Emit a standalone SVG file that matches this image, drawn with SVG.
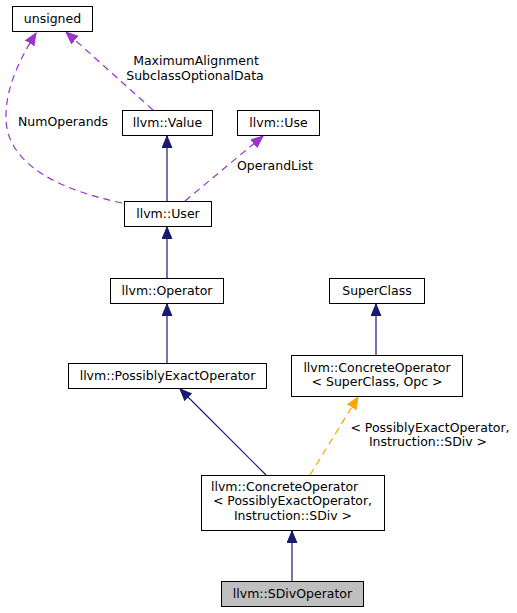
<svg xmlns="http://www.w3.org/2000/svg" width="517" height="613" viewBox="0 0 517 613">
<style>
.box{fill:#fff;stroke:#000;stroke-width:1}
.t{font-family:"DejaVu Sans",sans-serif;font-size:12.5px;fill:#000}
.m{text-anchor:middle}
.inh{fill:none;stroke:#191970;stroke-width:1.2}
.use{fill:none;stroke:#9a32cd;stroke-width:1.2;stroke-dasharray:7,5}
.tmpl{fill:none;stroke:#ffa500;stroke-width:1.2;stroke-dasharray:7,5}
</style>
<defs>
<marker id="aN" markerUnits="userSpaceOnUse" markerWidth="14" markerHeight="12" refX="12" refY="5" orient="auto"><path d="M0,0 L12,5 L0,10 z" fill="#191970" stroke="#191970"/></marker>
<marker id="aP" markerUnits="userSpaceOnUse" markerWidth="14" markerHeight="12" refX="12" refY="5" orient="auto"><path d="M0,0 L12,5 L0,10 z" fill="#9a32cd" stroke="#9a32cd"/></marker>
<marker id="aO" markerUnits="userSpaceOnUse" markerWidth="14" markerHeight="12" refX="12" refY="5" orient="auto"><path d="M0,0 L12,5 L0,10 z" fill="#ffa500" stroke="#ffa500"/></marker>
</defs>
<g id="connectors">
<path class="use" d="M153,110 L66,32" marker-end="url(#aP)"/>
<path class="use" d="M122,203 C60,190 8,165 6,120 C5,90 18,62 36,33" marker-end="url(#aP)"/>
<path class="inh" d="M167,201 L167,136" marker-end="url(#aN)"/>
<path class="use" d="M185,201 L263,136" marker-end="url(#aP)"/>
<path class="inh" d="M167,278 L167,227" marker-end="url(#aN)"/>
<path class="inh" d="M167,363 L167,304" marker-end="url(#aN)"/>
<path class="inh" d="M376,355 L376,304" marker-end="url(#aN)"/>
<path class="inh" d="M266,475 L180,389" marker-end="url(#aN)"/>
<path class="tmpl" d="M310,475 L358,397" marker-end="url(#aO)"/>
<path class="inh" d="M292,581 L292,531" marker-end="url(#aN)"/>
<text class="t m" x="196" y="65">MaximumAlignment</text>
<text class="t m" x="195" y="79.5">SubclassOptionalData</text>
<text class="t m" x="63" y="126">NumOperands</text>
<text class="t m" x="275" y="170">OperandList</text>
<text class="t m" x="430" y="432">&lt; PossiblyExactOperator,</text>
<text class="t m" x="428" y="446">Instruction::SDiv &gt;</text>
</g>
<g id="unsigned"><rect class="box" x="12.5" y="6.5" width="80" height="25"/><text class="t m" x="52.5" y="23">unsigned</text></g>
<g id="value"><rect class="box" x="122.5" y="110.5" width="90" height="25"/><text class="t m" x="167.5" y="127">llvm::Value</text></g>
<g id="use"><rect class="box" x="237.5" y="110.5" width="82" height="25"/><text class="t m" x="278.5" y="127">llvm::Use</text></g>
<g id="user"><rect class="box" x="124.5" y="201.5" width="87" height="25"/><text class="t m" x="168" y="218">llvm::User</text></g>
<g id="operator"><rect class="box" x="110.5" y="278.5" width="113" height="25"/><text class="t m" x="167" y="295">llvm::Operator</text></g>
<g id="superclass"><rect class="box" x="329.5" y="278.5" width="95" height="25"/><text class="t m" x="377" y="295">SuperClass</text></g>
<g id="possiblyexact"><rect class="box" x="68.5" y="363.5" width="198" height="25"/><text class="t m" x="167.5" y="380">llvm::PossiblyExactOperator</text></g>
<g id="concrete_sc"><rect class="box" x="291.5" y="355.5" width="171" height="41"/><text class="t m" x="377" y="372">llvm::ConcreteOperator</text><text class="t m" x="377" y="386">&lt; SuperClass, Opc &gt;</text></g>
<g id="concrete_peo"><rect class="box" x="201.5" y="475.5" width="183" height="55"/><text class="t" x="211" y="491">llvm::ConcreteOperator</text><text class="t m" x="292.5" y="505">&lt; PossiblyExactOperator,</text><text class="t m" x="293" y="520">Instruction::SDiv &gt;</text></g>
<g id="sdiv"><rect class="box" x="221.5" y="581.5" width="142" height="25" style="fill:#bfbfbf"/><text class="t m" x="292.5" y="598">llvm::SDivOperator</text></g>
</svg>
